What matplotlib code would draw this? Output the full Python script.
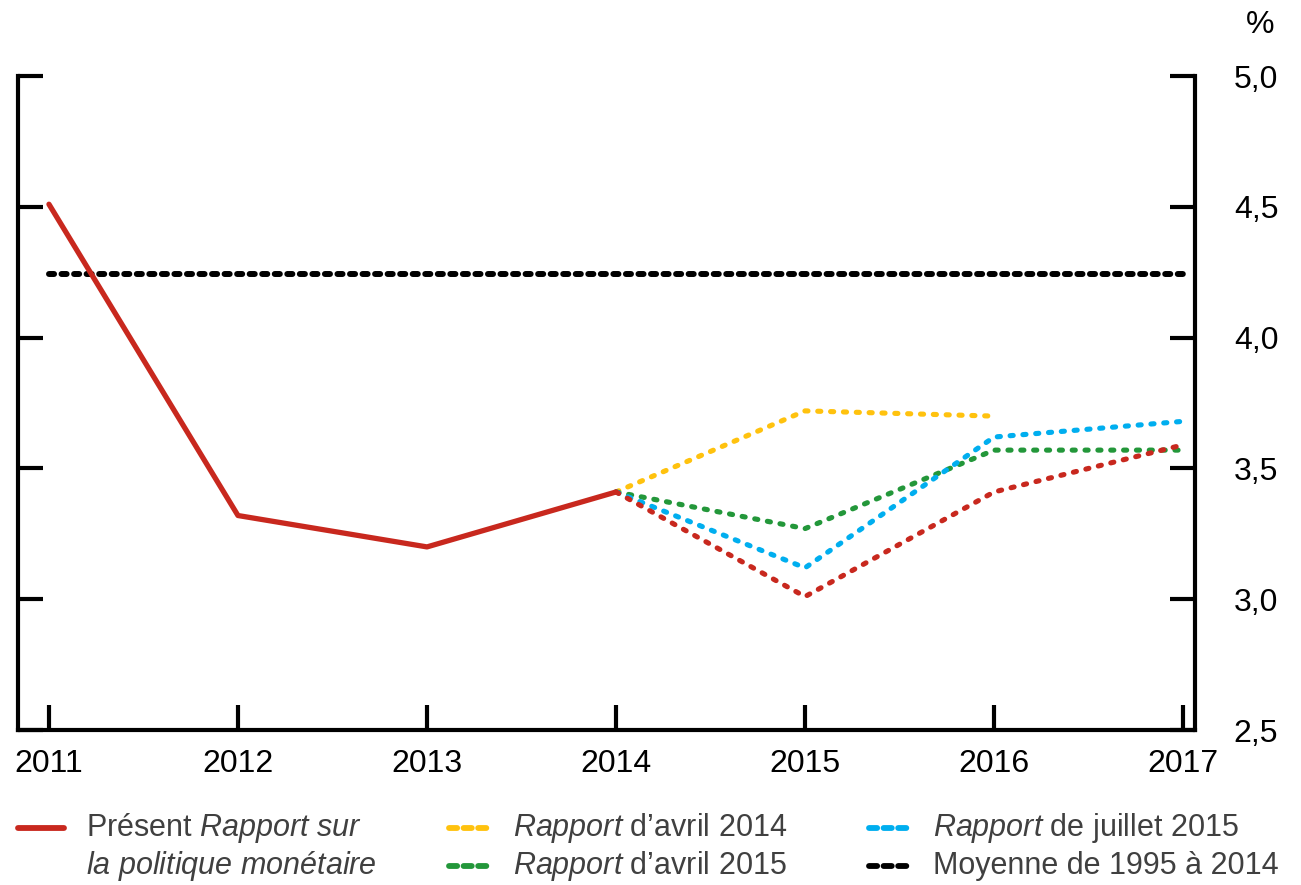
import matplotlib
matplotlib.use("Agg")
import matplotlib.pyplot as plt
from matplotlib.lines import Line2D
from matplotlib.ticker import FixedLocator, FuncFormatter

plt.rcParams['font.family'] = ['Liberation Sans', 'DejaVu Sans']
plt.rcParams['mathtext.fontset'] = 'custom'
plt.rcParams['mathtext.rm'] = 'Liberation Sans'
plt.rcParams['mathtext.it'] = 'Liberation Sans:italic'

# donnees
annees = [2011, 2012, 2013, 2014, 2015, 2016, 2017]
present_hist_x = [2011, 2012, 2013, 2014]
present_hist = [4.51, 3.32, 3.20, 3.41]
present_proj_x = [2014, 2015, 2016, 2017]
present_proj = [3.41, 3.01, 3.41, 3.59]
avril2014_x = [2014, 2015, 2016]
avril2014 = [3.41, 3.72, 3.70]
juillet2015_x = [2014, 2015, 2016, 2017]
juillet2015 = [3.41, 3.12, 3.62, 3.68]
avril2015_x = [2014, 2015, 2016, 2017]
avril2015 = [3.41, 3.27, 3.57, 3.57]
moyenne_x = [2011, 2017]
moyenne = [4.245, 4.245]
yticks = [2.5, 3.0, 3.5, 4.0, 4.5, 5.0]

rouge = '#c8281e'
jaune = '#ffc20e'
bleu = '#00aeef'
vert = '#23973a'
noir = '#000000'

fig = plt.figure(figsize=(13.01, 8.85), dpi=100)
ax = fig.add_axes([0.0138, 0.1751, 0.9047, 0.739])

dot = (0, (0.6, 1.9))
ax.plot(moyenne_x, moyenne, color=noir, lw=4.3, linestyle=(0, (0.85, 1.25)),
        dash_capstyle='round', zorder=2)
ax.plot(avril2014_x, avril2014, color=jaune, lw=3.7, linestyle=dot, dash_capstyle='round', zorder=3)
ax.plot(avril2015_x, avril2015, color=vert, lw=3.7, linestyle=dot, dash_capstyle='round', zorder=4)
ax.plot(juillet2015_x, juillet2015, color=bleu, lw=3.7, linestyle=dot, dash_capstyle='round', zorder=4)
ax.plot(present_proj_x, present_proj, color=rouge, lw=3.7, linestyle=dot, dash_capstyle='round', zorder=5)
ax.plot(present_hist_x, present_hist, color=rouge, lw=3.8, solid_capstyle='round', zorder=6)

ax.set_xlim(2010.836, 2017.063)
ax.set_ylim(2.5, 5.0)
ax.spines['top'].set_visible(False)
for s in ['left', 'right', 'bottom']:
    ax.spines[s].set_linewidth(3)
    ax.spines[s].set_capstyle('projecting')

ax.xaxis.set_major_locator(FixedLocator(annees))
ax.set_xticklabels([str(a) for a in annees])
ax.tick_params(axis='x', direction='in', length=18, width=3, pad=14, labelsize=23)
ax.yaxis.set_major_locator(FixedLocator(yticks))
ax.yaxis.set_major_formatter(FuncFormatter(lambda v, p: f"{v:.1f}".replace('.', ',')))
ax.tick_params(axis='y', direction='in', length=18, width=3, left=True, right=True,
               labelleft=False, labelright=True, pad=28, labelsize=23)

fig.text(0.9685, 0.972, '%', fontsize=23, ha='center', va='center')

# legende
def item(x, y, color, style, label):
    if style == 'solid':
        fig.add_artist(Line2D([x, x + 0.035], [y, y], transform=fig.transFigure,
                              color=color, lw=4.2, solid_capstyle='round'))
    else:
        fig.add_artist(Line2D([x + 0.003, x + 0.034], [y, y], transform=fig.transFigure,
                              color=color, lw=4.2, linestyle=(0, (1.4, 1.1)),
                              dash_capstyle='round'))
    fig.text(x + 0.052, y, label, fontsize=22, color='#404040', va='center', ha='left')

y1 = 1 - 828 / 885
y2 = 1 - 866 / 885
item(0.014, y1, rouge, 'solid', r'Présent $\mathit{Rapport\ sur}$')
fig.text(0.066, y2, r'$\mathit{la\ politique\ monétaire}$', fontsize=22, color='#404040',
         va='center', ha='left')
item(0.342, y1, jaune, 'dash', r'$\mathit{Rapport}$ d’avril 2014')
item(0.342, y2, vert, 'dash', r'$\mathit{Rapport}$ d’avril 2015')
item(0.665, y1, bleu, 'dash', r'$\mathit{Rapport}$ de juillet 2015')
item(0.665, y2, noir, 'dash', 'Moyenne de 1995 à 2014')

fig.savefig('out.png', dpi=100)
